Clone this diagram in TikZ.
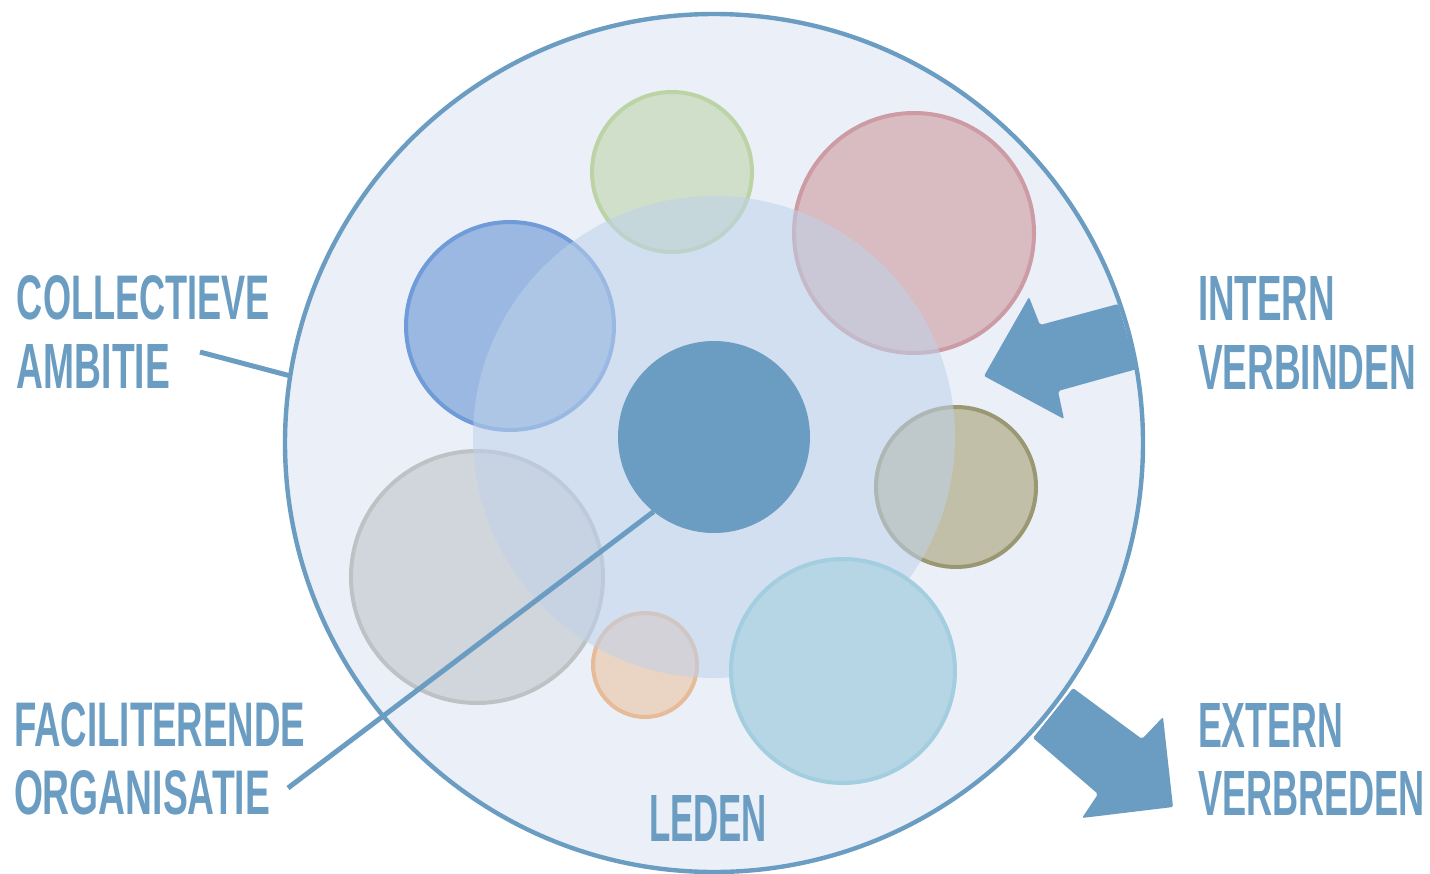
\documentclass[tikz,border=0pt]{standalone}
\usepackage{graphicx}
\usepackage{fontspec}
\setmainfont{Liberation Sans}

\definecolor{tblue}{HTML}{6B9DC2}
\definecolor{bgblue}{HTML}{EBF0F8}
\definecolor{innerblue}{HTML}{BFD2EA}
\definecolor{greenfill}{HTML}{CFDFC9}
\definecolor{greenline}{HTML}{BCD3A6}
\definecolor{pinkfill}{HTML}{D9BBC2}
\definecolor{pinkline}{HTML}{CD9BA3}
\definecolor{bluefill}{HTML}{9AB8E2}
\definecolor{blueline}{HTML}{6F9BD9}
\definecolor{olivefill}{HTML}{C1BFA7}
\definecolor{oliveline}{HTML}{9A9872}
\definecolor{grayfill}{HTML}{D1D6DC}
\definecolor{grayline}{HTML}{BEC2C5}
\definecolor{orangefill}{HTML}{EAD4C3}
\definecolor{orangeline}{HTML}{E6BB98}
\definecolor{skyfill}{HTML}{B6D6E6}
\definecolor{skyline}{HTML}{A3CEDF}

\newcommand{\capfit}[3]{\resizebox{#1}{#2}{\bfseries #3}}

\begin{document}
\begin{tikzpicture}[x=0.5pt, y=-0.5pt,
  disc/.style={shape=circle, inner sep=0pt, outer sep=0pt, line width=2pt},
  lbltext/.style={inner sep=0pt, outer sep=0pt, anchor=south west, text=tblue},
  leader/.style={draw=tblue, line width=2.5pt},
  blockarrow/.style={fill=tblue, rounded corners=1pt}]

\useasboundingbox (0,0) rectangle (1430,873);

\node[disc, draw=tblue, fill=bgblue, line width=2.2pt, minimum size=429pt] (outer) at (714,443) {};

\node[disc, draw=greenline, fill=greenfill, minimum size=80pt] (green) at (672,172) {};
\node[disc, draw=pinkline, fill=pinkfill, minimum size=120pt] (pink) at (914,233) {};
\node[disc, draw=blueline, fill=bluefill, minimum size=104pt] (blue) at (510,326) {};
\node[disc, draw=oliveline, fill=olivefill, minimum size=80pt] (olive) at (956,487) {};
\node[disc, draw=grayline, fill=grayfill, minimum size=126pt] (gray) at (477,577) {};
\node[disc, draw=orangeline, fill=orangefill, minimum size=52pt] (orange) at (645,665) {};

\node[disc, fill=innerblue, fill opacity=0.55, minimum size=241pt] (inner) at (714,437) {};

\node[disc, draw=skyline, fill=skyfill, minimum size=112pt] (sky) at (843,671) {};
\node[disc, fill=tblue, minimum size=96pt] (hub) at (714,437) {};

\fill[blockarrow] (1029,297) -- (1040,325) -- (1118,304) -- (1137,369) -- (1058,391) -- (1064,419) -- (984,376) -- cycle;
\fill[blockarrow] (1073,688) -- (1142,739) -- (1163,717) -- (1173,807) -- (1082,818) -- (1098,794) -- (1033,738) -- cycle;

\coordinate (ambitionend) at (200,352);
\coordinate (facilend) at (288,788);
\draw[leader] (ambitionend) -- (outer.171);
\draw[leader] (facilend) -- (hub.231);

\node[lbltext] (collectief) at (17,320) {\capfit{126.5pt}{22pt}{COLLECTIEVE}};
\node[lbltext] (ambitie) at (17,388) {\capfit{76.5pt}{22pt}{AMBITIE}};
\node[lbltext] (intern) at (1198,320) {\capfit{68.5pt}{22pt}{INTERN}};
\node[lbltext] (verbinden) at (1198,389) {\capfit{109pt}{22pt}{VERBINDEN}};
\node[lbltext] (faciliterend) at (14,747) {\capfit{145.5pt}{22pt}{FACILITERENDE}};
\node[lbltext] (organisatie) at (14,815) {\capfit{128pt}{22pt}{ORGANISATIE}};
\node[lbltext] (extern) at (1198,747) {\capfit{72.5pt}{22pt}{EXTERN}};
\node[lbltext] (verbreden) at (1198,815) {\capfit{113.5pt}{22pt}{VERBREDEN}};
\node[lbltext] (leden) at (649,841) {\capfit{59pt}{23pt}{LEDEN}};

\end{tikzpicture}
\end{document}
